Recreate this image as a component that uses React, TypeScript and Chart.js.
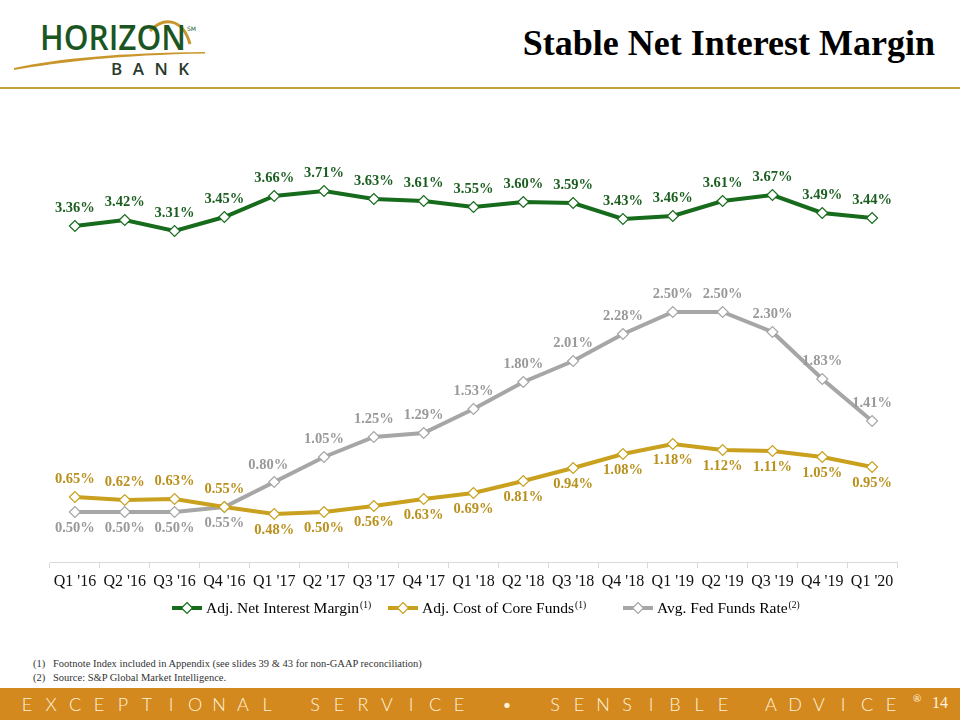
import React, { useEffect, useRef } from "react";
import { Chart, registerables } from "chart.js";

Chart.register(...registerables);

// ---------- data ----------
const categories = [
  "Q1 '16", "Q2 '16", "Q3 '16", "Q4 '16",
  "Q1 '17", "Q2 '17", "Q3 '17", "Q4 '17",
  "Q1 '18", "Q2 '18", "Q3 '18", "Q4 '18",
  "Q1 '19", "Q2 '19", "Q3 '19", "Q4 '19",
  "Q1 '20",
];
const adjNetInterestMargin = [3.36, 3.42, 3.31, 3.45, 3.66, 3.71, 3.63, 3.61, 3.55, 3.60, 3.59, 3.43, 3.46, 3.61, 3.67, 3.49, 3.44];
const adjCostOfCoreFunds = [0.65, 0.62, 0.63, 0.55, 0.48, 0.50, 0.56, 0.63, 0.69, 0.81, 0.94, 1.08, 1.18, 1.12, 1.11, 1.05, 0.95];
const avgFedFundsRate = [0.50, 0.50, 0.50, 0.55, 0.80, 1.05, 1.25, 1.29, 1.53, 1.80, 2.01, 2.28, 2.50, 2.50, 2.30, 1.83, 1.41];
const seriesNames = ["Adj. Net Interest Margin", "Adj. Cost of Core Funds", "Avg. Fed Funds Rate"];
const seriesNotes = ["(1)", "(1)", "(2)"];
const yMin = 0;
const yMax = 4;

// ---------- styling ----------
const GREEN = "#176B1C";
const GOLD = "#C9A11E";
const GRAY = "#A6A6A6";
const LINE_COLORS = [GREEN, GOLD, GRAY];
const LABEL_COLORS = ["#1B5E20", "#B8901C", "#999999"];
// label placement per point: a = above, b = below, al = above-left
const PLACEMENT = [
  Array(17).fill("a"),
  ["a", "a", "a", "a", "b", "b", "b", "b", "b", "b", "b", "b", "b", "b", "b", "b", "b"],
  ["b", "b", "b", "b", "al", "a", "a", "a", "a", "a", "a", "a", "a", "a", "a", "a", "a"],
];
const SERIF = '"Liberation Serif", "Times New Roman", serif';

const labelPlugin = {
  id: "pointValueLabels",
  afterDatasetsDraw(chart: any) {
    const ctx = chart.ctx;
    chart.data.datasets.forEach((ds: any, di: number) => {
      const meta = chart.getDatasetMeta(di);
      meta.data.forEach((pt: any, i: number) => {
        const v = ds.data[i] as number;
        const p = PLACEMENT[di][i];
        let dx = 0;
        let dy = p === "b" ? 16 : -18;
        if (p === "al") { dx = -6; dy = -17; }
        ctx.save();
        ctx.font = `bold 14.5px ${SERIF}`;
        ctx.fillStyle = LABEL_COLORS[di];
        ctx.textAlign = "center";
        ctx.textBaseline = "middle";
        ctx.fillText(v.toFixed(2) + "%", pt.x + dx, pt.y + dy);
        ctx.restore();
      });
    });
  },
};

function LineChart() {
  const ref = useRef<HTMLCanvasElement | null>(null);
  useEffect(() => {
    if (!ref.current) return;
    const series = [adjNetInterestMargin, adjCostOfCoreFunds, avgFedFundsRate];
    const chart = new Chart(ref.current, {
      type: "line",
      data: {
        labels: categories,
        datasets: series.map((d, i) => ({
          label: seriesNames[i],
          data: d,
          borderColor: LINE_COLORS[i],
          backgroundColor: LINE_COLORS[i],
          borderWidth: 4,
          tension: 0,
          pointStyle: "rectRot",
          pointRadius: 5.5,
          pointBackgroundColor: "#FFFFFF",
          pointBorderColor: LINE_COLORS[i],
          pointBorderWidth: 1.2,
          fill: false,
        })),
      },
      options: {
        responsive: false,
        animation: false,
        devicePixelRatio: 1,
        layout: { padding: { left: 50, right: 63, top: 32, bottom: 0 }, autoPadding: false },
        plugins: { legend: { display: false }, tooltip: { enabled: false } },
        scales: {
          x: {
            offset: true,
            grid: { offset: true, drawOnChartArea: false, drawTicks: true, tickLength: 6, color: "#D9D9D9" },
            border: { display: true, color: "#D9D9D9", width: 1 },
            ticks: { color: "#111111", font: { family: SERIF, size: 16 }, padding: 4, maxRotation: 0, autoSkip: false },
            afterFit: (s: any) => { s.height = 38; },
          },
          y: { display: false, min: yMin, max: yMax },
        },
      },
      plugins: [labelPlugin],
    } as any);
    return () => chart.destroy();
  }, []);
  return (
    <canvas
      ref={ref}
      width={960}
      height={470}
      style={{ position: "absolute", left: 0, top: 130, width: 960, height: 470, display: "block" }}
    />
  );
}

function LegendSwatch({ color }: { color: string }) {
  return (
    <svg width={30} height={14} style={{ display: "inline-block", verticalAlign: "middle", marginRight: 4 }}>
      <line x1={0} y1={7} x2={30} y2={7} stroke={color} strokeWidth={4} />
      <polygon points="15,1.5 20.5,7 15,12.5 9.5,7" fill="#FFFFFF" stroke={color} strokeWidth={1.2} />
    </svg>
  );
}

const legendLefts = [172, 388, 623];
const footerText = "EXCEPTIONAL SERVICE • SENSIBLE ADVICE";

export default function App() {
  return (
    <div
      style={{
        position: "absolute", left: 0, top: 0, width: 960, height: 720,
        background: "#FFFFFF", overflow: "hidden", fontFamily: SERIF,
      }}
    >
      {/* Logo */}
      <svg width={230} height={90} style={{ position: "absolute", left: 0, top: 0 }}>
        <path d="M14 68 C 60 58, 120 53, 205 52 L 205 53.5 C 120 55, 60 62, 14 70 Z" fill="#C8962A" />
        <path d="M150 31 C 162 18, 182 16, 190 44" stroke="#C8962A" strokeWidth={3} fill="none" />
        <text x={40} y={50} fontFamily='"Open Sans", "DejaVu Sans", sans-serif' fontWeight={600} fontSize={34} fill="#1A5522"
          textLength={146} lengthAdjust="spacingAndGlyphs">HORIZON</text>
        <text x={187} y={31} fontFamily='"DejaVu Sans", sans-serif' fontSize={6} fill="#1C5A24">SM</text>
        <text x={111} y={75} fontFamily='"Open Sans", "DejaVu Sans", sans-serif' fontWeight={600} fontSize={17} fill="#2A3A2C"
          letterSpacing={10.5}>BANK</text>
      </svg>
      <div style={{ position: "absolute", left: 0, top: 87, width: 960, height: 2, background: "#C4A23A" }} />

      {/* Title */}
      <div
        style={{
          position: "absolute", right: 25, top: 25, fontFamily: SERIF, fontWeight: "bold",
          fontSize: 36, lineHeight: "36px", color: "#000000", whiteSpace: "nowrap",
        }}
      >
        Stable Net Interest Margin
      </div>

      <LineChart />

      {/* Legend */}
      {seriesNames.map((n, i) => (
        <div
          key={n}
          style={{
            position: "absolute", left: legendLefts[i], top: 597, height: 20, lineHeight: "20px",
            fontSize: 15.5, color: "#000", whiteSpace: "nowrap",
          }}
        >
          <LegendSwatch color={LINE_COLORS[i]} />
          <span style={{ verticalAlign: "middle" }}>{n}</span>
          <sup style={{ fontSize: 9.5, verticalAlign: "top", position: "relative", top: -2, marginLeft: 1 }}>{seriesNotes[i]}</sup>
        </div>
      ))}

      {/* Footnotes */}
      <div style={{ position: "absolute", left: 33, top: 657, fontSize: 10.5, lineHeight: "14px", color: "#333" }}>
        <div><span style={{ display: "inline-block", width: 20 }}>(1)</span>Footnote Index included in Appendix (see slides 39 &amp; 43 for non-GAAP reconciliation)</div>
        <div><span style={{ display: "inline-block", width: 20 }}>(2)</span>Source: S&amp;P Global Market Intelligence.</div>
      </div>

      {/* Footer bar */}
      <div style={{ position: "absolute", left: 0, top: 688, width: 960, height: 32, background: "#D4891E" }}>
        <div style={{ position: "absolute", left: 15, top: 5, display: "flex", height: 22, alignItems: "center" }}>
          {footerText.split("").map((c, i) => (
            <span
              key={i}
              style={{
                display: "inline-block", width: 24, textAlign: "center", fontFamily: "Lato, sans-serif",
                fontWeight: 300, fontSize: 18, color: "#FFF3DC",
              }}
            >
              {c === " " ? "\u00A0" : c}
            </span>
          ))}
        </div>
        <span style={{ position: "absolute", left: 913, top: 4, fontSize: 10, color: "#FFF3DC", fontFamily: "Lato, sans-serif" }}>®</span>
        <span style={{ position: "absolute", left: 932, top: 6, fontSize: 16, color: "#FFF3DC", fontFamily: SERIF }}>14</span>
      </div>
    </div>
  );
}
